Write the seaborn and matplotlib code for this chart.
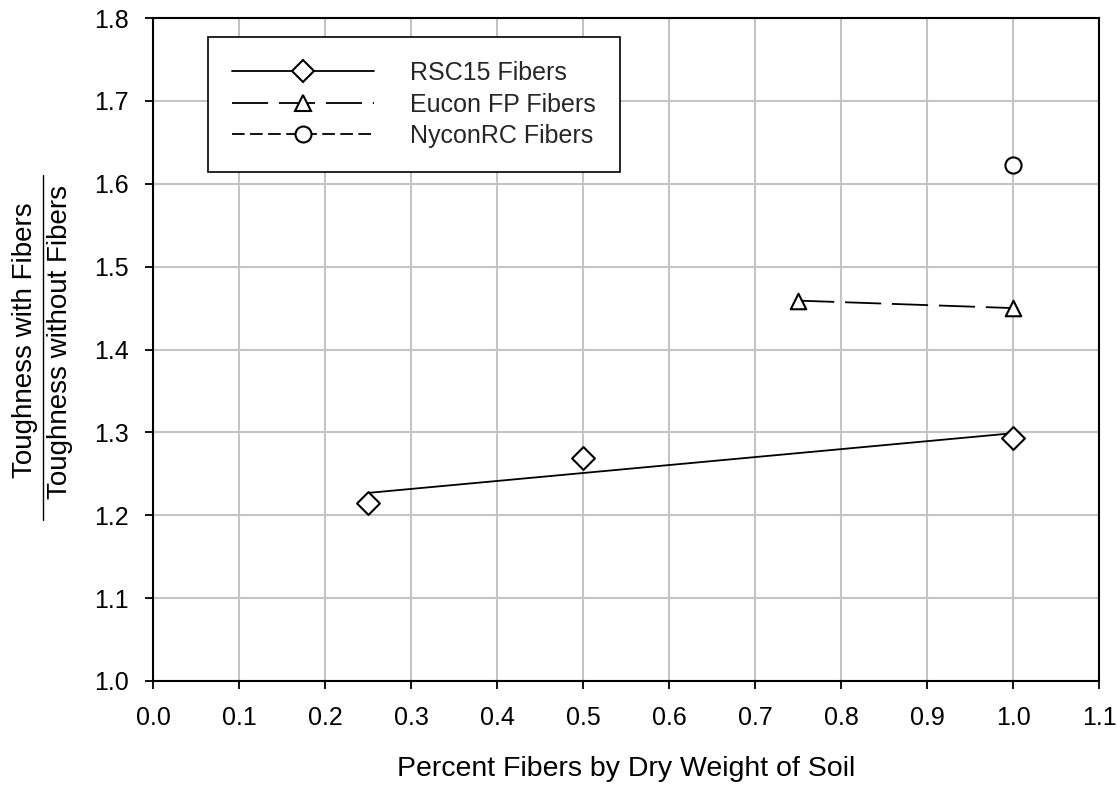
import numpy as np
import pandas as pd
import matplotlib
matplotlib.use("Agg")
import matplotlib.pyplot as plt
from matplotlib.lines import Line2D
import seaborn as sns

# ---- data ----
rsc_pct = [0.25, 0.50, 1.00]
rsc_ratio = [1.215, 1.269, 1.293]
eucon_pct = [0.75, 1.00]
eucon_ratio = [1.459, 1.450]
nycon_pct = [1.00]
nycon_ratio = [1.623]

series_labels = ["RSC15 Fibers", "Eucon FP Fibers", "NyconRC Fibers"]
x_ticks = [0.0, 0.1, 0.2, 0.3, 0.4, 0.5, 0.6, 0.7, 0.8, 0.9, 1.0, 1.1]
y_ticks = [1.0, 1.1, 1.2, 1.3, 1.4, 1.5, 1.6, 1.7, 1.8]
x_label = "Percent Fibers by Dry Weight of Soil"
y_label_top = "Toughness with Fibers"
y_label_bottom = "Toughness without Fibers"

sns.set_theme(style="ticks")
plt.rcParams["font.family"] = ["Liberation Sans", "DejaVu Sans"]

fig = plt.figure(figsize=(11.17, 7.85), dpi=100)
ax = fig.add_axes([0.1374, 0.1325, 0.8465, 0.8445])

lw = 1.3
mew = 1.5

# RSC15: least-squares trend line + open diamonds
df_rsc = pd.DataFrame({"x": rsc_pct, "y": rsc_ratio})
sns.regplot(data=df_rsc, x="x", y="y", scatter=False, ci=None, ax=ax,
            line_kws=dict(color="black", lw=lw, zorder=3))
sns.scatterplot(data=df_rsc, x="x", y="y", marker="D", s=135, ax=ax,
                facecolor="white", edgecolor="black", linewidth=mew, zorder=4)

# Eucon FP: long-dashed line + open triangles
df_eu = pd.DataFrame({"x": eucon_pct, "y": eucon_ratio})
sns.lineplot(data=df_eu, x="x", y="y", ax=ax, color="black", lw=lw,
             linestyle=(0, (20, 6)), zorder=3)
sns.scatterplot(data=df_eu, x="x", y="y", marker="^", s=125, ax=ax,
                facecolor="white", edgecolor="black", linewidth=mew, zorder=4)

# NyconRC: open circle
df_ny = pd.DataFrame({"x": nycon_pct, "y": nycon_ratio})
sns.scatterplot(data=df_ny, x="x", y="y", marker="o", s=135, ax=ax,
                facecolor="white", edgecolor="black", linewidth=mew, zorder=4)

ax.set_xlim(0.0, 1.1)
ax.set_ylim(1.0, 1.8)
ax.set_xticks(x_ticks)
ax.set_yticks(y_ticks)
ax.set_xticklabels([f"{v:.1f}" for v in x_ticks])
ax.set_yticklabels([f"{v:.1f}" for v in y_ticks])
ax.grid(True, color="#c4c4c4", lw=1.5, zorder=0)
ax.set_axisbelow(True)
for sp in ax.spines.values():
    sp.set_visible(True)
    sp.set_color("black")
    sp.set_linewidth(1.5)
ax.tick_params(axis="both", direction="out", length=6, width=1.3,
               color="black", labelsize=18, labelcolor="black")
ax.tick_params(axis="x", pad=12)
ax.tick_params(axis="y", pad=12)
ax.set_xlabel(x_label, fontsize=20.5, color="black", labelpad=19)
ax.set_ylabel("")

# legend
handles = [
    Line2D([], [], color="black", lw=lw, marker="D", markersize=11,
           markerfacecolor="white", markeredgecolor="black", markeredgewidth=mew),
    Line2D([], [], color="black", lw=lw, linestyle=(0, (20, 6)), marker="^",
           markersize=11, markerfacecolor="white", markeredgecolor="black",
           markeredgewidth=mew),
    Line2D([], [], color="black", lw=lw, linestyle=(0, (7, 3)), marker="o",
           markersize=11.5, markerfacecolor="white", markeredgecolor="black",
           markeredgewidth=mew),
]
leg = ax.legend(handles, series_labels, loc="upper left",
                bbox_to_anchor=(0.0576, 0.971), borderaxespad=0,
                fontsize=18, frameon=True, fancybox=False, framealpha=1,
                edgecolor="black", handlelength=5.7, handletextpad=1.45,
                borderpad=0.95, labelspacing=0.3)
leg.get_frame().set_linewidth(1.2)
leg.set_zorder(6)

# fraction-style y label
fig.text(25 / 1117, 1 - 340 / 785, y_label_top, rotation=90,
         ha="center", va="center", fontsize=20, color="black")
fig.text(60 / 1117, 1 - 342 / 785, y_label_bottom, rotation=90,
         ha="center", va="center", fontsize=20, color="black")
fig.add_artist(Line2D([43 / 1117, 43 / 1117], [1 - 520 / 785, 1 - 175 / 785],
                      color="black", lw=1.0, transform=fig.transFigure))

fig.savefig("out.png", dpi=100)
